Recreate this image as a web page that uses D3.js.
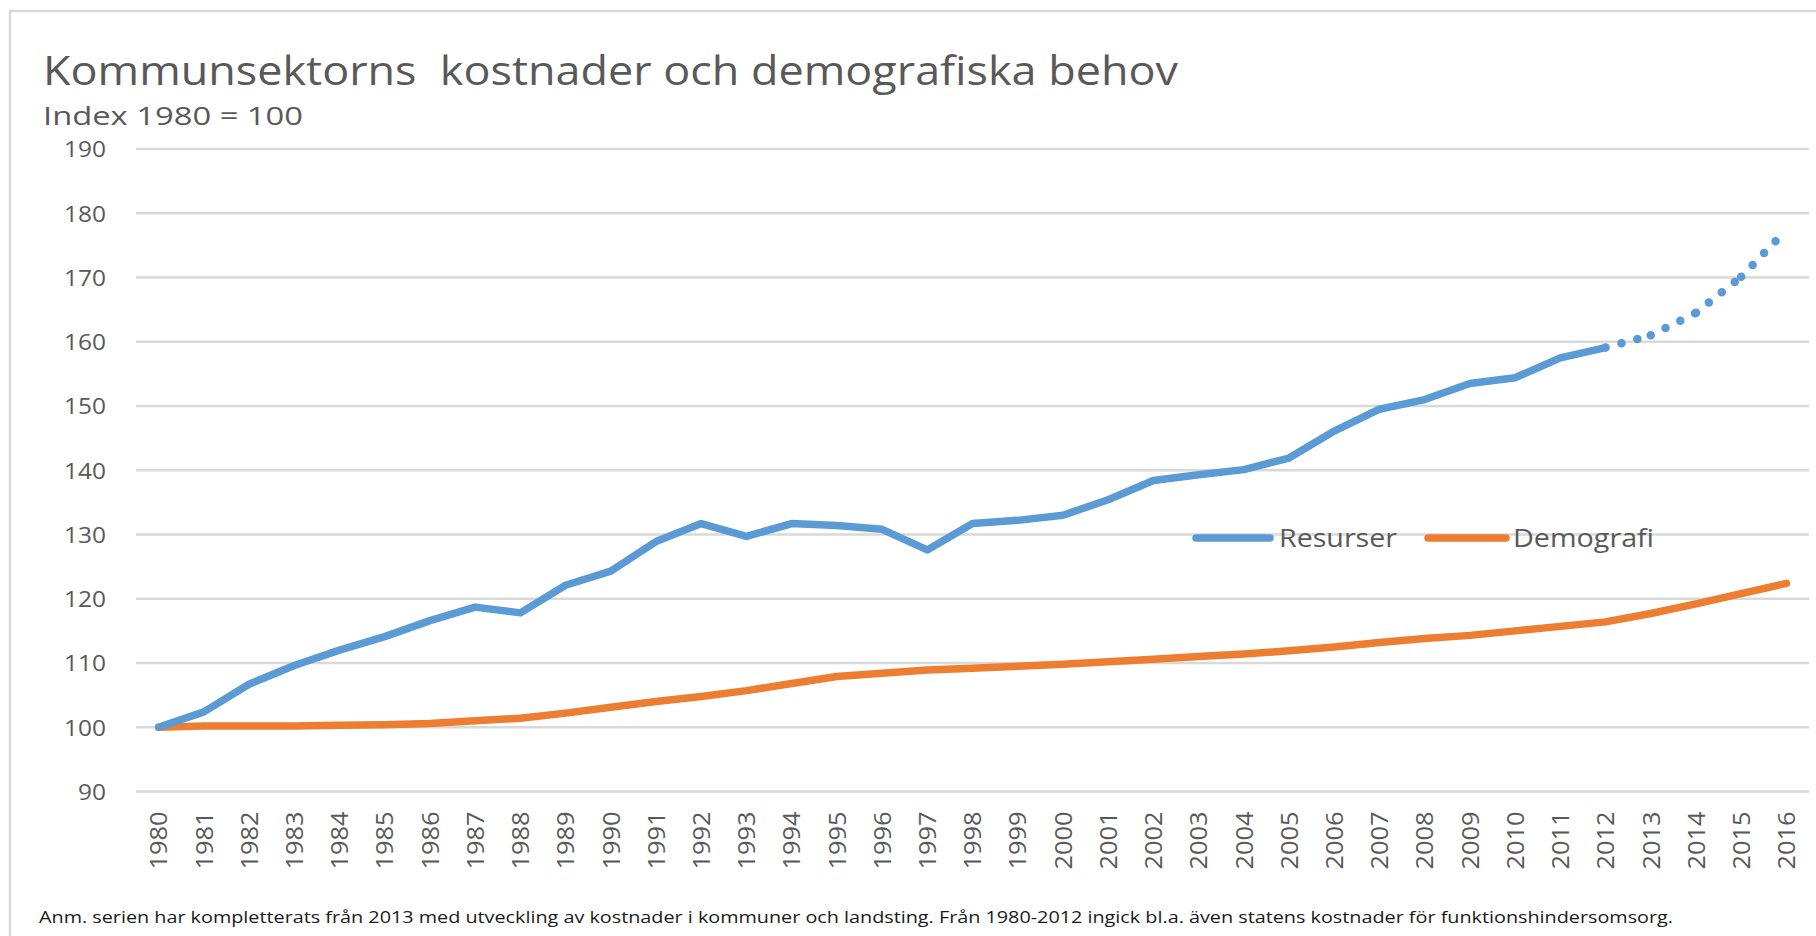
<!DOCTYPE html>
<html>
<head>
<meta charset="utf-8">
<script src="https://cdn.jsdelivr.net/npm/d3@7"></script>
<style>
  html, body { margin: 0; padding: 0; background: #fff; }
  svg { display: block; font-family: "Open Sans", "Noto Sans", sans-serif; }
</style>
</head>
<body>
<svg id="chart" width="1816" height="936"></svg>
<script>
// ---------- data ----------
const years = ["1980","1981","1982","1983","1984","1985","1986","1987","1988","1989",
               "1990","1991","1992","1993","1994","1995","1996","1997","1998","1999",
               "2000","2001","2002","2003","2004","2005","2006","2007","2008","2009",
               "2010","2011","2012","2013","2014","2015","2016"];

// Resurser, observed 1980–2012 (solid)
const resurser = [100, 102.4, 106.7, 109.6, 112.0, 114.1, 116.6, 118.7, 117.8, 122.1,
                  124.3, 128.9, 131.7, 129.7, 131.7, 131.4, 130.8, 127.6, 131.7, 132.2,
                  133.0, 135.4, 138.4, 139.3, 140.1, 141.9, 146.1, 149.5, 151.0, 153.5,
                  154.4, 157.5, 159.1];
// Resurser, completed series 2012–2016 (dotted)
const resurserYears2 = ["2012","2013","2014","2015","2016"];
const resurser2 = [159.1, 161.0, 164.5, 170.1, 177.4];

// Demografi 1980–2016
const demografi = [100, 100.2, 100.2, 100.2, 100.3, 100.4, 100.6, 101.0, 101.4, 102.2,
                   103.1, 104.0, 104.8, 105.7, 106.8, 107.9, 108.4, 108.9, 109.2, 109.5,
                   109.8, 110.2, 110.6, 111.0, 111.4, 111.9, 112.5, 113.2, 113.8, 114.3,
                   115.0, 115.7, 116.4, 117.7, 119.2, 120.8, 122.4];

const yTicks = [90, 100, 110, 120, 130, 140, 150, 160, 170, 180, 190];
const seriesNames = ["Resurser", "Demografi"];
const colors = { Resurser: "#5B9BD5", Demografi: "#ED7D31" };

const titleText = "Kommunsektorns  kostnader och demografiska behov";
const subtitleText = "Index 1980 = 100";
const noteText = "Anm. serien har kompletterats från 2013 med utveckling av kostnader i kommuner och landsting. Från 1980-2012 ingick bl.a. även statens kostnader för funktionshindersomsorg.";

// ---------- layout ----------
const svg = d3.select("#chart");
const textGray = "#595959";
const gridGray = "#D9D9D9";
const plot = { left: 136, right: 1809, top: 149, bottom: 791.5 };

// frame
svg.append("rect")
  .attr("x", 10).attr("y", 11).attr("width", 1830).attr("height", 1000)
  .attr("fill", "none").attr("stroke", gridGray).attr("stroke-width", 2.5);

const x = d3.scalePoint().domain(years).range([plot.left, plot.right]).padding(0.5);
const y = d3.scaleLinear().domain([90, 190]).range([plot.bottom, plot.top]);

// gridlines
svg.append("g").selectAll("line").data(yTicks).join("line")
  .attr("x1", plot.left).attr("x2", plot.right)
  .attr("y1", d => y(d)).attr("y2", d => y(d))
  .attr("stroke", gridGray).attr("stroke-width", 2.5);

// y axis labels
const yAxis = d3.axisLeft(y).tickValues(yTicks).tickSize(0).tickPadding(0);
const gy = svg.append("g").attr("transform", `translate(${plot.left - 30},0)`).call(yAxis);
gy.select(".domain").remove();
gy.selectAll("text")
  .attr("fill", textGray).attr("font-size", 22).attr("font-family", "Open Sans")
  .attr("x", 0).attr("dy", "0.36em")
  .attr("textLength", d => String(d).length * 14)
  .attr("lengthAdjust", "spacingAndGlyphs");

// x axis labels (rotated)
const xAxis = d3.axisBottom(x).tickSize(0).tickPadding(0);
const gx = svg.append("g").attr("transform", `translate(0,${plot.bottom + 20})`).call(xAxis);
gx.select(".domain").remove();
gx.selectAll("text")
  .attr("fill", textGray).attr("font-size", 23).attr("font-family", "Open Sans")
  .attr("transform", "rotate(-90)")
  .attr("text-anchor", "end")
  .attr("x", 0).attr("y", 0).attr("dy", "0.36em")
  .attr("textLength", 58).attr("lengthAdjust", "spacingAndGlyphs");

// lines
const line = d3.line().x(d => x(d.year)).y(d => y(d.value));
const resData = resurser.map((v, i) => ({ year: years[i], value: v }));
const demData = demografi.map((v, i) => ({ year: years[i], value: v }));
const res2Data = resurser2.map((v, i) => ({ year: resurserYears2[i], value: v }));

svg.append("path").datum(demData).attr("d", line)
  .attr("fill", "none").attr("stroke", colors.Demografi).attr("stroke-width", 7.5)
  .attr("stroke-linejoin", "round").attr("stroke-linecap", "round");

svg.append("path").datum(resData).attr("d", line)
  .attr("fill", "none").attr("stroke", colors.Resurser).attr("stroke-width", 7.5)
  .attr("stroke-linejoin", "round").attr("stroke-linecap", "round");

// dotted completion, dash pattern restarting at each segment
const segs = d3.pairs(res2Data);
svg.append("g").selectAll("path").data(segs).join("path")
  .attr("d", d => line(d))
  .attr("fill", "none").attr("stroke", colors.Resurser).attr("stroke-width", 8.5)
  .attr("stroke-linecap", "round").attr("stroke-dasharray", "0 16.5");

// legend
const legend = svg.append("g");
const legendItems = [
  { name: seriesNames[0], x1: 1196, x2: 1270, tx: 1279, tw: 118 },
  { name: seriesNames[1], x1: 1428, x2: 1506, tx: 1513, tw: 141 }
];
legendItems.forEach(it => {
  legend.append("line")
    .attr("x1", it.x1).attr("x2", it.x2).attr("y1", 538).attr("y2", 538)
    .attr("stroke", colors[it.name]).attr("stroke-width", 7.5).attr("stroke-linecap", "round");
  legend.append("text")
    .attr("x", it.tx).attr("y", 547)
    .attr("fill", textGray).attr("font-size", 26)
    .attr("textLength", it.tw).attr("lengthAdjust", "spacingAndGlyphs")
    .text(it.name);
});

// title & subtitle
svg.append("text")
  .attr("x", 43).attr("y", 85)
  .attr("fill", textGray).attr("font-size", 40)
  .attr("textLength", 1135).attr("lengthAdjust", "spacingAndGlyphs")
  .style("white-space", "pre")
  .text(titleText);

svg.append("text")
  .attr("x", 43).attr("y", 125)
  .attr("fill", textGray).attr("font-size", 26)
  .attr("textLength", 260).attr("lengthAdjust", "spacingAndGlyphs")
  .text(subtitleText);

// footnote
svg.append("text")
  .attr("x", 39).attr("y", 923)
  .attr("fill", "#1a1a1a").attr("font-size", 16)
  .attr("textLength", 1634).attr("lengthAdjust", "spacingAndGlyphs")
  .text(noteText);
</script>
</body>
</html>
